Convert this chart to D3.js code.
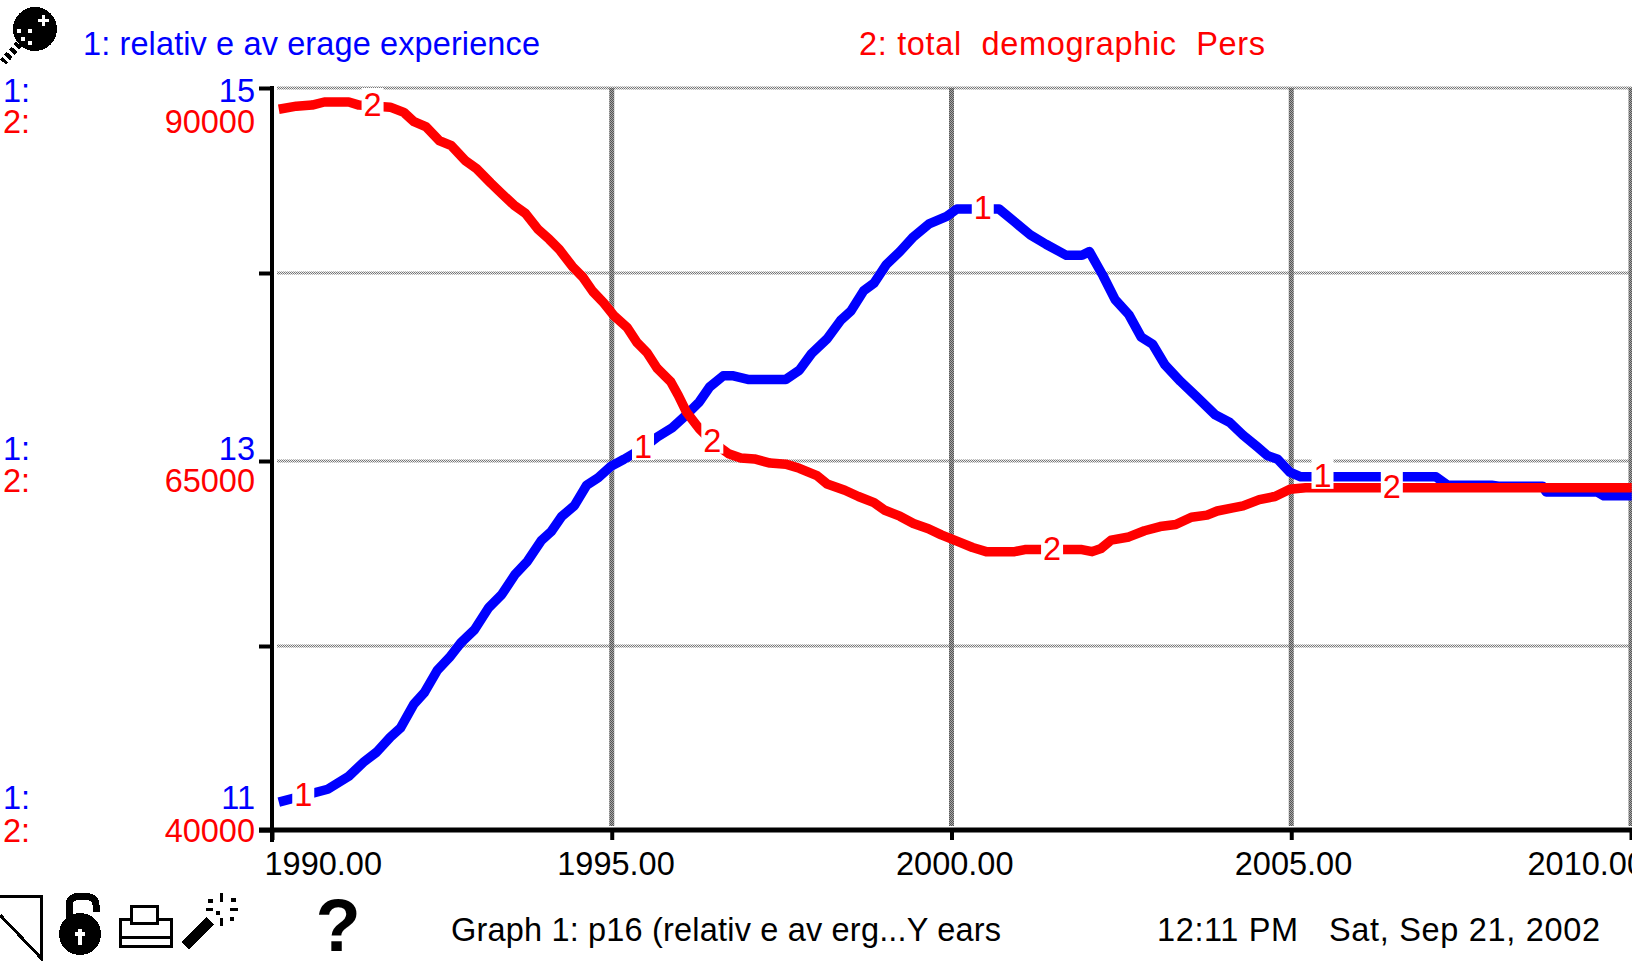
<!DOCTYPE html>
<html><head><meta charset="utf-8">
<script src="https://cdnjs.cloudflare.com/ajax/libs/d3/7.8.5/d3.min.js"></script>
<style>
html,body{margin:0;padding:0;background:#fff;overflow:hidden}
svg{display:block}
text{font-family:"Liberation Sans",Arial,sans-serif;white-space:pre}
</style></head><body>
<svg id="c" width="1632" height="961"></svg>
<script>
const blueYears=[1990.10,1990.82,1991.13,1991.36,1991.54,1991.74,1991.89,1992.09,1992.24,1992.43,1992.61,1992.78,1992.98,1993.19,1993.38,1993.58,1993.76,1993.96,1994.11,1994.26,1994.45,1994.63,1994.80,1994.98,1995.18,1995.46,1995.67,1995.89,1996.10,1996.29,1996.44,1996.64,1996.79,1997.02,1997.56,1997.76,1997.94,1998.17,1998.37,1998.52,1998.71,1998.86,1999.04,1999.24,1999.44,1999.67,1999.93,2000.08,2000.70,2000.93,2001.16,2001.39,2001.59,2001.69,2001.92,2002.03,2002.23,2002.41,2002.61,2002.79,2002.96,2003.14,2003.37,2003.60,2003.88,2004.09,2004.29,2004.49,2004.65,2004.80,2004.98,2005.14,2005.75,2007.13,2007.30,2007.95,2008.05,2008.70,2008.75,2009.50,2009.60,2010.01];
const blueValues=[11.15,11.22,11.29,11.37,11.42,11.50,11.55,11.68,11.74,11.86,11.93,12.01,12.08,12.20,12.27,12.38,12.45,12.56,12.61,12.69,12.75,12.86,12.90,12.96,13.00,13.06,13.12,13.17,13.24,13.31,13.39,13.45,13.45,13.43,13.43,13.48,13.57,13.65,13.75,13.80,13.91,13.95,14.05,14.12,14.20,14.27,14.31,14.35,14.35,14.28,14.21,14.16,14.12,14.10,14.10,14.12,13.99,13.86,13.78,13.66,13.62,13.51,13.42,13.34,13.24,13.20,13.13,13.07,13.02,13.00,12.93,12.905,12.905,12.905,12.86,12.86,12.855,12.855,12.824,12.824,12.803,12.803];
const redYears=[1990.10,1990.36,1990.59,1990.77,1991.13,1991.28,1991.74,1991.94,1992.09,1992.27,1992.46,1992.64,1992.84,1993.01,1993.22,1993.38,1993.56,1993.73,1993.91,1994.08,1994.23,1994.42,1994.57,1994.72,1994.88,1995.03,1995.23,1995.37,1995.52,1995.67,1995.87,1995.98,1996.10,1996.29,1996.49,1996.72,1996.90,1997.10,1997.33,1997.56,1997.76,1998.02,1998.17,1998.43,1998.63,1998.86,1999.01,1999.24,1999.44,1999.66,1999.85,2000.08,2000.31,2000.51,2000.93,2001.08,2001.92,2002.07,2002.20,2002.35,2002.61,2002.84,2003.07,2003.30,2003.53,2003.76,2003.91,2004.14,2004.29,2004.53,2004.76,2004.98,2005.21,2010.01];
const redValues=[88600,88810,88880,89090,89090,88880,88740,88390,87760,87410,86490,86140,85160,84600,83620,82910,82140,81580,80530,79830,79130,78000,77300,76320,75550,74700,73860,72880,72180,71120,70210,69300,68180,67050,66140,65370,65090,65020,64740,64670,64390,63900,63330,62910,62490,62070,61580,61160,60670,60320,59900,59480,59050,58770,58770,58910,58910,58770,58980,59550,59760,60180,60460,60600,61090,61230,61510,61720,61860,62280,62490,62980,63080,63080];
const xTicks=[1990,1995,2000,2005,2010];
const gridLevels=[15,14,13,12,11];
const blueLabelTicks=[15,13,11];
const redLabelTicks=[90000,65000,40000];
const blueMarkYears=[1990.46,1995.46,2000.46,2005.46];
const redMarkYears=[1991.48,1996.48,2001.48,2006.48];
const titleBlue="1: relativ e av erage experience";
const titleRed="2: total  demographic  Pers";
const footer=["Graph 1: p16 (relativ e av erg...Y ears","12:11 PM","Sat, Sep 21, 2002"];

const BLUE="#0000ff",RED="#ff0000",FS=32.5;
const svg=d3.select("#c");
const defs=svg.append("defs");
function checker(id,a,b){
  const p=defs.append("pattern").attr("id",id).attr("patternUnits","userSpaceOnUse").attr("width",2).attr("height",2);
  p.append("rect").attr("width",2).attr("height",2).attr("fill",b);
  p.append("rect").attr("width",1).attr("height",1).attr("fill",a);
  p.append("rect").attr("x",1).attr("y",1).attr("width",1).attr("height",1).attr("fill",a);
}
checker("gv","#555","#a6a6a6");
checker("gh","#777","#ededed");

const x=d3.scaleLinear().domain([1990,2010]).range([272,1631]);
const yB=d3.scaleLinear().domain([11,15]).range([830,88.5]);
const yR=d3.scaleLinear().domain([40000,90000]).range([830,88.5]);
const yGrid=d3.scaleLinear().domain([11,12,13,14,15]).range([830,646,461,273,88]);

// grid
svg.append("g").selectAll("line").data(gridLevels).join("line")
  .attr("x1",277).attr("x2",1632).attr("y1",d=>yGrid(d)).attr("y2",d=>yGrid(d))
  .attr("stroke","url(#gh)").attr("stroke-width",3);
svg.append("g").selectAll("line").data(xTicks.slice(1)).join("line")
  .attr("x1",d=>x(d)).attr("x2",d=>x(d)).attr("y1",88).attr("y2",826)
  .attr("stroke","url(#gv)").attr("stroke-width",5);

// axes
const yAxisG=svg.append("g").attr("transform","translate(272,0)")
  .call(d3.axisLeft(yGrid).tickValues(gridLevels).tickSize(13).tickFormat(""));
yAxisG.select(".domain").attr("stroke","#000").attr("stroke-width",4).attr("d","M0,86V842");
yAxisG.selectAll(".tick line").attr("stroke","#000").attr("stroke-width",4);

const xOffsets=[-8,-55,-56,-57,-104];
const xAxisG=svg.append("g").attr("transform","translate(0,830)")
  .call(d3.axisBottom(x).tickValues(xTicks).tickSize(10).tickFormat(d3.format(".2f")));
xAxisG.select(".domain").attr("stroke","#000").attr("stroke-width",5).attr("d","M259,0H1632");
xAxisG.selectAll(".tick line").attr("stroke","#000").attr("stroke-width",4);
xAxisG.selectAll(".tick text").attr("fill","#000").attr("font-size",FS)
  .attr("font-family",null).attr("text-anchor","start")
  .attr("dx",(d,i)=>xOffsets[i]).attr("dy",0).attr("y",45);

// value labels
const blueBase=[102,460,809],redBase=[133,492,842];
function valueLabels(vals,base,color,tag){
  const g=svg.append("g").attr("fill",color).attr("font-size",FS);
  g.selectAll("text.v").data(vals).join("text").attr("class","v")
    .attr("x",255).attr("y",(d,i)=>base[i]).attr("text-anchor","end").text(d=>d);
  g.selectAll("text.t").data(vals).join("text").attr("class","t")
    .attr("x",3).attr("y",(d,i)=>base[i]).text(tag);
}
valueLabels(blueLabelTicks,blueBase,BLUE,"1:");
valueLabels(redLabelTicks,redBase,RED,"2:");

// series
const bluePts=blueYears.map((t,i)=>[t,blueValues[i]]);
const redPts=redYears.map((t,i)=>[t,redValues[i]]);
const lineB=d3.line().x(d=>x(d[0])).y(d=>yB(d[1]));
const lineR=d3.line().x(d=>x(d[0])).y(d=>yR(d[1]));
svg.append("path").attr("d",lineB(bluePts)).attr("fill","none").attr("stroke",BLUE).attr("stroke-width",9.5).attr("stroke-linejoin","round");
svg.append("path").attr("d",lineR(redPts)).attr("fill","none").attr("stroke",RED).attr("stroke-width",9.5).attr("stroke-linejoin","round");

// curve marks
function at(pts,t){
  const i=Math.max(1,d3.bisector(d=>d[0]).left(pts,t));
  const a=pts[i-1],b=pts[i];
  return a[1]+(b[1]-a[1])*(t-a[0])/(b[0]-a[0]);
}
function marks(years,pts,scale,label){
  const g=svg.append("g");
  years.forEach(t=>{
    const px=x(t),py=scale(at(pts,t));
    g.append("rect").attr("x",px-11).attr("y",py-18).attr("width",22).attr("height",30).attr("fill","#fff");
    g.append("text").attr("x",px).attr("y",py+10).attr("text-anchor","middle").attr("fill",RED).attr("font-size",FS).text(label);
  });
}
marks(blueMarkYears,bluePts,yB,"1");
marks(redMarkYears,redPts,yR,"2");

// titles
svg.append("text").attr("x",83).attr("y",55).attr("fill",BLUE).attr("font-size",FS).attr("textLength",457).attr("lengthAdjust","spacing").text(titleBlue);
svg.append("text").attr("x",859).attr("y",55).attr("fill",RED).attr("font-size",FS).attr("textLength",406).attr("lengthAdjust","spacing").text(titleRed);

// footer
svg.append("text").attr("x",451).attr("y",941).attr("font-size",FS).attr("textLength",550).attr("lengthAdjust","spacing").text(footer[0]);
svg.append("text").attr("x",1157).attr("y",941).attr("font-size",FS).attr("textLength",141).attr("lengthAdjust","spacing").text(footer[1]);
svg.append("text").attr("x",1329).attr("y",941).attr("font-size",FS).attr("textLength",271).attr("lengthAdjust","spacing").text(footer[2]);

// icons
const ic=svg.append("g").attr("shape-rendering","crispEdges");
// magnifier
ic.append("circle").attr("cx",35).attr("cy",29).attr("r",22).attr("fill","#000");
ic.append("path").attr("d","M38,19h4v-4h3v4h4v3h-4v4h-3v-4h-4z").attr("fill","#fff");
[[17,29],[28,29],[21,37],[28,41]].forEach(p=>ic.append("rect").attr("x",p[0]).attr("y",p[1]).attr("width",4).attr("height",4).attr("fill","#fff"));
ic.append("path").attr("d","M19,44L3,62").attr("stroke","#000").attr("stroke-width",8).attr("stroke-dasharray","4 3");
// corner
ic.append("path").attr("d","M-2,896H41V958L0,915").attr("fill","none").attr("stroke","#000").attr("stroke-width",3);
// open lock
ic.append("circle").attr("cx",80).attr("cy",934).attr("r",21).attr("fill","#000");
ic.append("path").attr("d","M69,922V905Q69,896 82,896Q96,896 96,905V912").attr("fill","none").attr("stroke","#000").attr("stroke-width",7);
ic.append("path").attr("d","M78,929h4v3h3v4h-3v9h-4v-9h-3v-4h3z").attr("fill","#fff");
// printer
ic.append("rect").attr("x",120).attr("y",919).attr("width",51).attr("height",27).attr("fill","#fff").attr("stroke","#000").attr("stroke-width",3);
ic.append("rect").attr("x",131).attr("y",906).attr("width",26).attr("height",17).attr("fill","#fff").attr("stroke","#000").attr("stroke-width",3);
ic.append("line").attr("x1",120).attr("x2",171).attr("y1",937).attr("y2",937).attr("stroke","#000").attr("stroke-width",3);
// wand
ic.append("line").attr("x1",185).attr("y1",946).attr("x2",210).attr("y2",921).attr("stroke","#000").attr("stroke-width",11);
[[220,893,3,9],[231,898,5,4],[208,899,5,4],[206,908,7,3],[230,908,8,3],[216,911,4,4],[220,918,3,8],[230,917,4,4]].forEach(p=>
  ic.append("rect").attr("x",p[0]).attr("y",p[1]).attr("width",p[2]).attr("height",p[3]).attr("fill","#000"));
// help
svg.append("text").attr("x",338).attr("y",951).attr("text-anchor","middle").attr("font-size",74).attr("font-weight","bold").text("?");
</script>
</body></html>
